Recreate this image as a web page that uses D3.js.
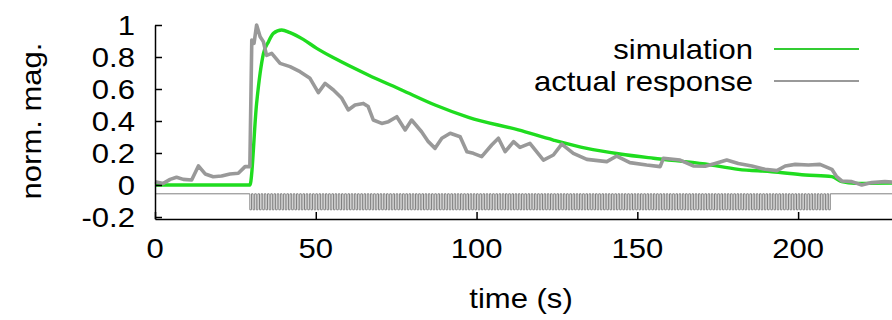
<!DOCTYPE html>
<html>
<head>
<meta charset="utf-8">
<script src="https://cdn.jsdelivr.net/npm/d3@7"></script>
<style>
  body { margin: 0; background: #fff; }
  text { font-family: "Liberation Sans", Arial, Helvetica, sans-serif; font-size: 27px; fill: #000; }
</style>
</head>
<body>
<svg id="chart" width="892" height="320"></svg>
<script>
// axis ticks
const timeTicks = [0, 50, 100, 150, 200];
const magTicks = [-0.2, 0, 0.2, 0.4, 0.6, 0.8, 1];
const magTickLabels = ["-0.2", "0", "0.2", "0.4", "0.6", "0.8", "1"];

// simulation
const simTime = [0, 29.5, 31.6, 32.7, 33.7, 35.3, 36.8, 39.4, 42, 46.1, 50.3, 56, 66.3, 76.7, 87.1,
  97.5, 113, 123.9, 134.3, 144.6, 155, 171.1, 181.4, 191.8, 202.2, 210.5, 213.6, 217.7, 229.2];
const simMag = [0, 0, 0.51, 0.70, 0.82, 0.896, 0.948, 0.969, 0.952, 0.91, 0.854, 0.79, 0.6875, 0.594, 0.5,
  0.423, 0.344, 0.281, 0.229, 0.194, 0.167, 0.131, 0.098, 0.083, 0.0625, 0.052, 0.021, 0.01, 0.012];

// actual response
const actTime = [0, 2.6, 4.7, 6.7, 8.8, 11.4, 13.5, 15.6, 18.1, 20.7, 23.3, 25.9, 28, 29.5, 30.1, 30.8,
  31.6, 32.7, 33.7, 34.7, 36.3, 38.9, 42, 45.1, 48.2, 50.8, 52.9, 55.5, 58.1, 60.1, 62.2, 64.8, 66.3,
  67.9, 70.5, 72.6, 75.2, 77.8, 79.8, 82.9, 85, 87.1, 89.2, 91.8, 94.9, 97, 99, 101.6, 104.7, 106.8,
  108.9, 111.5, 113.5, 116.6, 120.8, 123.9, 126.5, 130.1, 134.3, 140.5, 143.6, 147.7, 152.9, 157.1,
  158.1, 163.3, 167.4, 171.1, 174.2, 177.8, 181.4, 185.6, 189.7, 193.4, 196, 199.1, 203.2, 206.8,
  210.5, 212, 213.6, 216.7, 219.8, 222.9, 227, 229.2];
const actMag = [0.02, 0.01, 0.035, 0.048, 0.035, 0.031, 0.119, 0.069, 0.052, 0.056, 0.069, 0.073, 0.115, 0.115, 0.906, 0.886,
  1.0, 0.927, 0.896, 0.81, 0.823, 0.76, 0.74, 0.708, 0.667, 0.577, 0.635, 0.594, 0.542, 0.469, 0.5, 0.51, 0.49,
  0.406, 0.385, 0.396, 0.427, 0.344, 0.406, 0.333, 0.271, 0.229, 0.292, 0.323, 0.302, 0.208, 0.198, 0.177, 0.25, 0.292,
  0.208, 0.271, 0.235, 0.26, 0.156, 0.1875, 0.256, 0.198, 0.16, 0.146, 0.181, 0.14, 0.125, 0.115,
  0.167, 0.156, 0.119, 0.117, 0.135, 0.156, 0.135, 0.119, 0.098, 0.09, 0.119, 0.129, 0.125, 0.129,
  0.098, 0.052, 0.025, 0.021, 0.0, 0.015, 0.021, 0.018];

// stimulus pulse train
const pulseStart = 29.5, pulseEnd = 210.5, pulsePeriod = 1, pulseWidth = 0.5;
const pulseBase = -0.055, pulseLow = -0.155;

const seriesNames = ["simulation", "actual response"];
const seriesColors = ["#1fdc1f", "#999999"];

const svg = d3.select("#chart");
const stretch = 1.15; // text in the picture is drawn a bit wide

const x = d3.scaleLinear().domain([0, 229.2]).range([155, 892]);
const y = d3.scaleLinear().domain([-0.2125, 1]).range([219, 25]);

// stimulus: baseline + square wave
const onsets = d3.range(pulseStart, pulseEnd, pulsePeriod);
const pulsePts = [[x.domain()[0], pulseBase]];
onsets.forEach(t => {
  pulsePts.push([t, pulseBase], [t, pulseLow], [t + pulseWidth, pulseLow], [t + pulseWidth, pulseBase]);
});
pulsePts.push([x.domain()[1], pulseBase]);
svg.append("path")
  .attr("fill", "none")
  .attr("stroke", "#808080")
  .attr("stroke-width", 1)
  .attr("d", d3.line().x(d => x(d[0])).y(d => y(d[1]))(pulsePts));

// data lines
const simLine = d3.line().curve(d3.curveMonotoneX)
  .x((d, i) => x(simTime[i])).y(d => y(d));
const actLine = d3.line()
  .x((d, i) => x(actTime[i])).y(d => y(d));

svg.append("path")
  .attr("fill", "none")
  .attr("stroke", seriesColors[0])
  .attr("stroke-width", 3.4)
  .attr("stroke-linejoin", "round")
  .attr("d", simLine(simMag));

svg.append("path")
  .attr("fill", "none")
  .attr("stroke", seriesColors[1])
  .attr("stroke-width", 3.6)
  .attr("stroke-linejoin", "round")
  .attr("d", actLine(actMag));

// axes
const yAxis = svg.append("g")
  .attr("transform", `translate(${x(0)},0)`)
  .call(d3.axisLeft(y).tickValues(magTicks).tickSizeInner(-7).tickSizeOuter(0).tickFormat(""));
const xAxis = svg.append("g")
  .attr("transform", `translate(0,${y.range()[0]})`)
  .call(d3.axisBottom(x).tickValues(timeTicks).tickSizeInner(-7).tickSizeOuter(0).tickFormat(""));
[yAxis, xAxis].forEach(a => {
  a.selectAll("path, line").attr("stroke", "#000").attr("stroke-width", 1.5);
});

// tick labels
magTicks.forEach((v, i) => {
  svg.append("text")
    .attr("text-anchor", "end")
    .attr("transform", `translate(135,${y(v) + 9.6}) scale(${stretch},1)`)
    .text(magTickLabels[i]);
});
timeTicks.forEach(t => {
  svg.append("text")
    .attr("text-anchor", "middle")
    .attr("transform", `translate(${x(t)},258) scale(${stretch},1)`)
    .text(t);
});

// axis titles
svg.append("text")
  .attr("text-anchor", "middle")
  .attr("transform", `translate(521,308) scale(${stretch},1)`)
  .text("time (s)");
svg.append("text")
  .attr("text-anchor", "middle")
  .attr("transform", `translate(41,121) rotate(-90) scale(${stretch},1)`)
  .text("norm. mag.");

// legend
seriesNames.forEach((name, i) => {
  const ly = 49 + i * 32;
  svg.append("text")
    .attr("text-anchor", "end")
    .attr("transform", `translate(753,${ly + 10}) scale(${stretch},1)`)
    .text(name);
  svg.append("line")
    .attr("x1", 774).attr("x2", 859)
    .attr("y1", ly).attr("y2", ly)
    .attr("stroke", i === 0 ? "#33cc33" : seriesColors[1])
    .attr("stroke-width", 2);
});
</script>
</body>
</html>
